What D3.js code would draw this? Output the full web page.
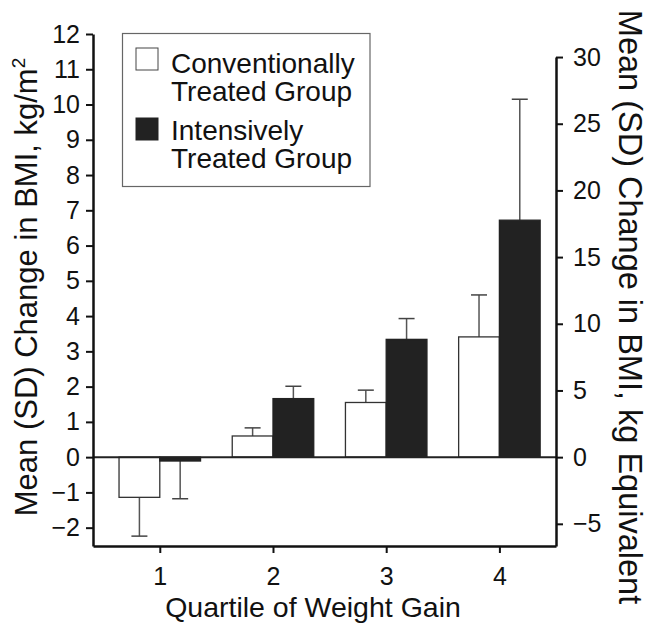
<!DOCTYPE html>
<html>
<head>
<meta charset="utf-8">
<script src="https://cdn.jsdelivr.net/npm/d3@7"></script>
<style>
  body { margin: 0; background: #fff; }
  text { font-family: "Liberation Sans", Arial, sans-serif; fill: #111; }
</style>
</head>
<body>
<svg id="chart" width="654" height="630"></svg>
<script>
/* Data */
var quartiles = [1, 2, 3, 4];
var convMean = [-1.14, 0.60, 1.55, 3.41];
var convSD   = [1.10, 0.23, 0.35, 1.19];
var intMean  = [-0.11, 1.66, 3.34, 6.72];
var intSD    = [1.07, 0.35, 0.59, 3.43];
var leftTicks = [-2, -1, 0, 1, 2, 3, 4, 5, 6, 7, 8, 9, 10, 11, 12];
var rightTicks = [-5, 0, 5, 10, 15, 20, 25, 30];
var kgFactor = 2.644; // kg equivalent per kg/m2

/* Scales */
var x = d3.scaleLinear().domain([0.41, 4.5]).range([93, 556]);
var y = d3.scaleLinear().domain([-2.52, 12]).range([546, 34]);
var yR = d3.scaleLinear()
  .domain([-2.52 * kgFactor, 30])
  .range([546, y(30 / kgFactor)]);

var barW = x(1.36) - x(1);

var svg = d3.select("svg#chart");

/* Bars */
var rows = quartiles.map(function (q, i) {
  return [
    { q: q, m: convMean[i], sd: convSD[i], off: -barW, fill: "#fff" },
    { q: q, m: intMean[i], sd: intSD[i], off: 0, fill: "#222" }
  ];
}).flat();

var bars = svg.append("g");

// error bars first so the bar covers the stem
bars.selectAll("line.stem")
  .data(rows)
  .enter()
  .append("line")
  .attr("class", "stem")
  .attr("x1", d => x(d.q) + d.off + barW / 2)
  .attr("x2", d => x(d.q) + d.off + barW / 2)
  .attr("y1", d => y(d.m))
  .attr("y2", d => y(d.m + (d.m < 0 ? -d.sd : d.sd)))
  .attr("stroke", "#555")
  .attr("stroke-width", 1.5);

bars.selectAll("line.cap")
  .data(rows)
  .enter()
  .append("line")
  .attr("class", "cap")
  .attr("x1", d => x(d.q) + d.off + barW / 2 - 8)
  .attr("x2", d => x(d.q) + d.off + barW / 2 + 8)
  .attr("y1", d => y(d.m + (d.m < 0 ? -d.sd : d.sd)))
  .attr("y2", d => y(d.m + (d.m < 0 ? -d.sd : d.sd)))
  .attr("stroke", "#444")
  .attr("stroke-width", 1.5);

bars.selectAll("rect")
  .data(rows)
  .enter()
  .append("rect")
  .attr("x", d => x(d.q) + d.off)
  .attr("width", barW)
  .attr("y", d => Math.min(y(d.m), y(0)))
  .attr("height", d => Math.abs(y(d.m) - y(0)))
  .attr("fill", d => d.fill)
  .attr("stroke", d => d.fill === "#fff" ? "#333" : "#222")
  .attr("stroke-width", 1.3);

// zero line
svg.append("line")
  .attr("x1", x.range()[0]).attr("x2", x.range()[1])
  .attr("y1", y(0)).attr("y2", y(0))
  .attr("stroke", "#222")
  .attr("stroke-width", 2);

/* Axes */
function styleAxis(g) {
  g.select(".domain").attr("stroke", "#111").attr("stroke-width", 2.5);
  g.selectAll(".tick line").attr("stroke", "#111").attr("stroke-width", 2);
  g.selectAll(".tick text")
    .attr("font-size", 25)
    .attr("font-family", "Liberation Sans, Arial, sans-serif")
    .attr("fill", "#111");
}

svg.append("g")
  .attr("transform", "translate(93,0)")
  .call(d3.axisLeft(y).tickValues(leftTicks).tickSize(7).tickSizeOuter(0).tickPadding(6))
  .call(styleAxis);

svg.append("g")
  .attr("transform", "translate(556,0)")
  .call(d3.axisRight(yR).tickValues(rightTicks).tickSize(7).tickSizeOuter(0).tickPadding(10))
  .call(styleAxis);

svg.append("g")
  .attr("transform", "translate(0,546)")
  .call(d3.axisBottom(x).tickValues(quartiles).tickFormat(d3.format("d")).tickSize(7).tickSizeOuter(0).tickPadding(14))
  .call(styleAxis);

/* Axis titles */
svg.append("text")
  .attr("transform", "translate(37,287) rotate(-90)")
  .attr("text-anchor", "middle")
  .attr("font-size", 31)
  .text("Mean (SD) Change in BMI, kg/m")
  .append("tspan")
  .attr("dy", -12)
  .attr("font-size", 19)
  .text("2");

svg.append("text")
  .attr("transform", "translate(619,307) rotate(90)")
  .attr("text-anchor", "middle")
  .attr("font-size", 32.5)
  .text("Mean (SD) Change in BMI, kg Equivalent");

svg.append("text")
  .attr("x", 313)
  .attr("y", 617)
  .attr("text-anchor", "middle")
  .attr("font-size", 28.5)
  .text("Quartile of Weight Gain");

/* Legend */
var legend = svg.append("g");
legend.append("rect")
  .attr("x", 122.5).attr("y", 33.5)
  .attr("width", 247.5).attr("height", 153)
  .attr("fill", "#fff")
  .attr("stroke", "#666")
  .attr("stroke-width", 1.2);

var legendItems = [
  { fill: "#fff", y: 48, lines: ["Conventionally", "Treated Group"], base: 73 },
  { fill: "#222", y: 118, lines: ["Intensively", "Treated Group"], base: 140 }
];

legendItems.forEach(function (it) {
  legend.append("rect")
    .attr("x", 136).attr("y", it.y)
    .attr("width", 22).attr("height", 22)
    .attr("fill", it.fill)
    .attr("stroke", it.fill === "#fff" ? "#444" : "#222")
    .attr("stroke-width", 1);
  var t = legend.append("text")
    .attr("x", 171).attr("y", it.base)
    .attr("font-size", 28);
  t.selectAll("tspan")
    .data(it.lines)
    .enter()
    .append("tspan")
    .attr("x", 171)
    .attr("dy", (d, i) => i === 0 ? 0 : 27.5)
    .text(d => d);
});
</script>
</body>
</html>
